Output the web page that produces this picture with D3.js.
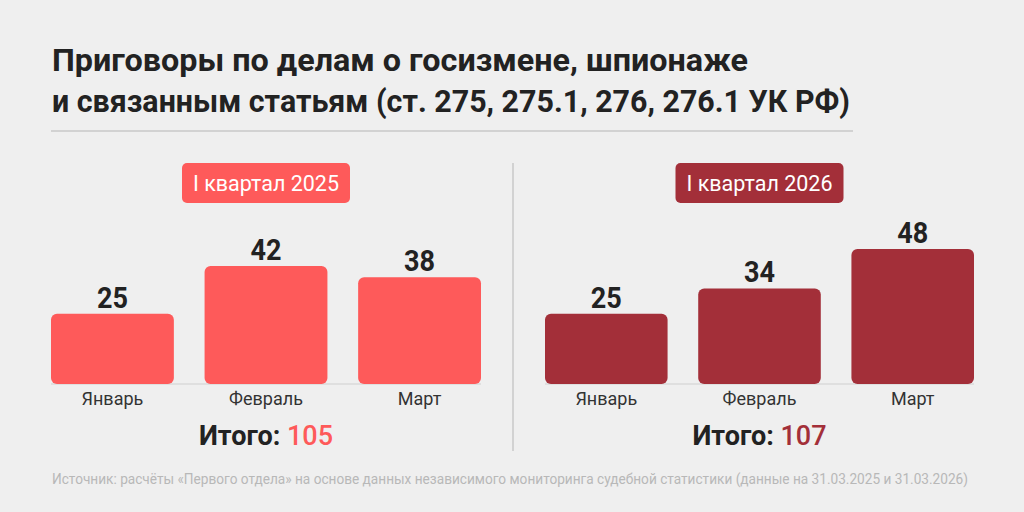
<!DOCTYPE html>
<html>
<head>
<meta charset="utf-8">
<script src="https://cdn.jsdelivr.net/npm/d3@7"></script>
<style>
  body { margin: 0; background: #efefef; }
  svg { display: block; font-family: Roboto, "Noto Sans", sans-serif; }
</style>
</head>
<body>
<script>
var months = ["Январь", "Февраль", "Март"];
var values2025 = [25, 42, 38];
var values2026 = [25, 34, 48];
var periods = ["I квартал 2025", "I квартал 2026"];
var titleLines = ["Приговоры по делам о госизмене, шпионаже",
                  "и связанным статьям (ст. 275, 275.1, 276, 276.1 УК РФ)"];
var source = "Источник: расчёты «Первого отдела» на основе данных независимого мониторинга судебной статистики (данные на 31.03.2025 и 31.03.2026)";

var W = 1024, H = 512;
var svg = d3.select("body").append("svg").attr("width", W).attr("height", H);

svg.append("rect").attr("width", W).attr("height", H).attr("fill", "#efefef");

// title (squeezed a bit to look like the condensed face)
svg.selectAll("text.title")
      .data(titleLines)
      .enter().append("text")
      .attr("class", "title")
      .attr("x", 52)
      .attr("y", function(d, i){ return 71 + i * 41; })
      .attr("font-size", 32)
      .attr("font-weight", 700)
      .attr("fill", "#222")
      .attr("textLength", function(d, i){ return i == 0 ? 696 : 798; })
      .attr("lengthAdjust", "spacingAndGlyphs")
      .text(function(d){ return d; });

svg.append("line")
      .attr("x1", 51).attr("x2", 853)
      .attr("y1", 131).attr("y2", 131)
      .attr("stroke", "#c8c8c8").attr("stroke-width", 1.5);

// divider
svg.append("line")
      .attr("x1", 513).attr("x2", 513)
      .attr("y1", 163).attr("y2", 451)
      .attr("stroke", "#c8c8c8").attr("stroke-width", 1.5);

var y = d3.scaleLinear().domain([0, 48]).range([384, 249]);

var panels = [
  { period: periods[0], values: values2025, x0: 51, x1: 481, color: "#fe5a5a" },
  { period: periods[1], values: values2026, x0: 545, x1: 974, color: "#a32f39" }
];

panels.forEach(function(p){
  var x = d3.scaleBand().domain(months).range([p.x0, p.x1]).paddingInner(0.2).paddingOuter(0);
  var cx = (p.x0 + p.x1) / 2;
  var g = svg.append("g");

  // badge
  var bw = 168;
  g.append("rect")
        .attr("x", cx - bw / 2).attr("y", 163)
        .attr("width", bw).attr("height", 40)
        .attr("rx", 5)
        .attr("fill", p.color);
  g.append("text")
        .attr("x", cx).attr("y", 191)
        .attr("text-anchor", "middle")
        .attr("font-size", 22)
        .attr("fill", "#fff")
        .attr("textLength", 146)
        .attr("lengthAdjust", "spacingAndGlyphs")
        .text(p.period);

  // baseline
  g.append("line")
        .attr("x1", p.x0).attr("x2", p.x1)
        .attr("y1", y(0)).attr("y2", y(0))
        .attr("stroke", "#cfcfcf").attr("stroke-width", 1);

  g.selectAll("rect.bar")
        .data(p.values)
        .enter().append("rect")
        .attr("class", "bar")
        .attr("x", function(d, i){ return x(months[i]); })
        .attr("y", function(d){ return y(d); })
        .attr("width", x.bandwidth())
        .attr("height", function(d){ return y(0) - y(d); })
        .attr("rx", 6)
        .attr("fill", p.color);

  g.selectAll("text.val")
        .data(p.values)
        .enter().append("text")
        .attr("class", "val")
        .attr("x", function(d, i){ return x(months[i]) + x.bandwidth() / 2; })
        .attr("y", function(d){ return y(d) - 6; })
        .attr("text-anchor", "middle")
        .attr("font-size", 29)
        .attr("font-weight", 700)
        .attr("fill", "#222")
        .attr("textLength", 31)
        .attr("lengthAdjust", "spacingAndGlyphs")
        .text(function(d){ return d; });

  var axis = d3.axisBottom(x).tickSize(0).tickPadding(8);
  var ax = g.append("g")
        .attr("transform", "translate(0," + y(0) + ")")
        .call(axis);
  ax.select(".domain").remove();
  ax.selectAll("text")
        .attr("font-size", 18)
        .attr("font-family", "Roboto, sans-serif")
        .attr("fill", "#333");

  var total = d3.sum(p.values);
  var t = g.append("text")
        .attr("x", cx).attr("y", 445)
        .attr("text-anchor", "middle")
        .attr("font-size", 27)
        .attr("font-weight", 700);
  t.append("tspan").attr("fill", "#222").text("Итого: ");
  t.append("tspan").attr("fill", p.color).attr("font-weight", 500).text(total);
});

// source
svg.append("text")
      .attr("x", 52).attr("y", 484)
      .attr("font-size", 14)
      .attr("fill", "#b8b8b8")
      .attr("textLength", 916)
      .attr("lengthAdjust", "spacingAndGlyphs")
      .text(source);
</script>
</body>
</html>
